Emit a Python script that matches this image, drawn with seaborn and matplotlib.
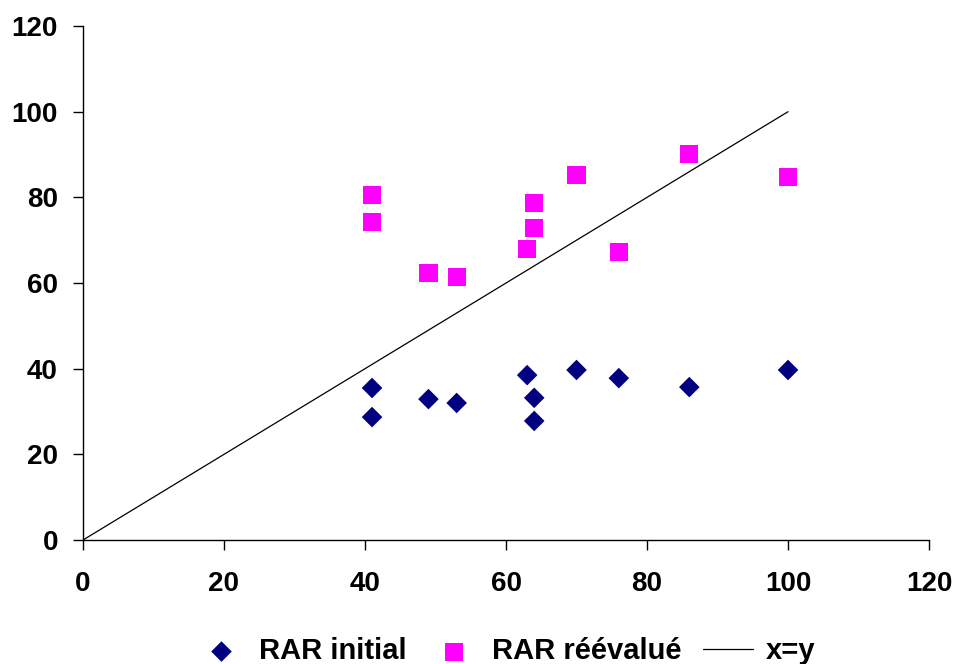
import matplotlib
matplotlib.use('Agg')
import matplotlib.pyplot as plt
import seaborn as sns
import pandas as pd

# données
rar_x = [41, 41, 49, 53, 63, 64, 64, 70, 76, 86, 100]
rar_initial = [35.5, 28.7, 32.9, 32.0, 38.5, 33.2, 27.8, 39.7, 37.8, 35.7, 39.7]
rar_reevalue = [80.5, 74.2, 62.3, 61.4, 67.9, 78.7, 72.8, 85.2, 67.2, 90.1, 84.8]
diag = [0, 100]
ticks = [0, 20, 40, 60, 80, 100, 120]

sns.set_style('white')
plt.rcParams['font.family'] = ['Liberation Sans', 'DejaVu Sans']
plt.rcParams['font.weight'] = 'bold'
plt.rcParams['text.color'] = 'black'

df = pd.DataFrame({'x': rar_x, 'initial': rar_initial, 'reevalue': rar_reevalue})

fig = plt.figure(figsize=(9.56, 6.64), dpi=100)
ax = fig.add_axes([0.0868, 0.1867, 0.885, 0.7741])

sns.scatterplot(data=df, x='x', y='initial', marker='D', s=110, color='#000080',
                edgecolor='none', label='RAR initial', ax=ax)
sns.scatterplot(data=df, x='x', y='reevalue', marker='s', s=170, color='#FF00FF',
                edgecolor='none', label='RAR réévalué', ax=ax)
sns.lineplot(x=diag, y=diag, color='black', linewidth=0.9, label='x=y', ax=ax)

ax.set_xlim(0, 120)
ax.set_ylim(0, 120)
ax.set_xticks(ticks)
ax.set_yticks(ticks)
ax.set_xlabel('')
ax.set_ylabel('')
ax.tick_params(axis='both', direction='out', length=7, width=1, color='black',
               labelcolor='black', labelsize=20, bottom=True, left=True)
ax.tick_params(axis='x', pad=15)
ax.tick_params(axis='y', pad=11)
for lab in ax.get_xticklabels() + ax.get_yticklabels():
    lab.set_fontweight('bold')
sns.despine(ax=ax)
for s in ['left', 'bottom']:
    ax.spines[s].set_color('black')
    ax.spines[s].set_linewidth(1)

ax.legend(loc='upper center', bbox_to_anchor=(0.5, -0.138), ncol=3, frameon=False,
          prop={'size': 21, 'weight': 'bold'}, handlelength=1.7, columnspacing=0.75,
          handletextpad=0.45, labelcolor='black')

fig.savefig('out.png', dpi=100)
